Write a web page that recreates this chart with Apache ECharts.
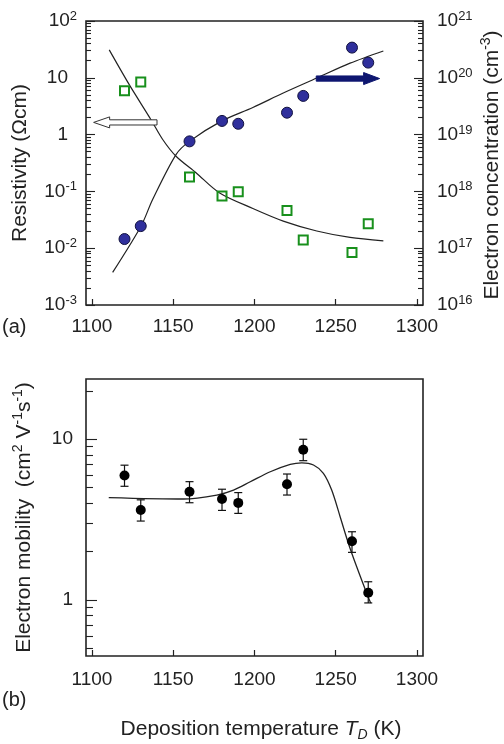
<!DOCTYPE html>
<html>
<head>
<meta charset="utf-8">
<script src="https://cdn.jsdelivr.net/npm/echarts@6/dist/echarts.min.js"></script>
<style>
  html, body { margin: 0; padding: 0; background: #fff; }
  #chart { width: 504px; height: 744px; }
</style>
</head>
<body>
<div id="chart"></div>
<script>
// measured points, both panels share the same deposition temperatures
var temps = [1120, 1130, 1160, 1180, 1190, 1220, 1230, 1260, 1270];
var resistivity = [5.9, 8.4, 0.18, 0.083, 0.099, 0.046, 0.014, 0.0084, 0.027];
var concentration = [1.45e17, 2.45e17, 7.6e18, 1.74e19, 1.55e19, 2.43e19, 4.8e19, 3.4e20, 1.85e20];
var mobility = [5.95, 3.63, 4.72, 4.25, 4.02, 5.25, 8.6, 2.32, 1.11];
var mobilityHigh = [6.9, 4.2, 5.45, 4.89, 4.66, 6.08, 10, 2.66, 1.30];
var mobilityLow = [5.1, 3.1, 4.03, 3.61, 3.46, 4.5, 7.36, 1.98, 0.96];

// fitted curves
var resFitT = [1110.6, 1123, 1136.3, 1143.5, 1151.7, 1164, 1178.3, 1199, 1217.7, 1238.3, 1258.8, 1279.3];
var resFitV = [31, 7.5, 1.83, 0.82, 0.416, 0.213, 0.095, 0.05, 0.030, 0.0201, 0.0155, 0.0135];
var concFitT = [1112.7, 1130.2, 1137.3, 1151.7, 1159.9, 1179.4, 1199, 1217.7, 1238.3, 1258.8, 1279.3];
var concFitV = [3.75e16, 2.46e17, 7.2e17, 4.45e18, 7.6e18, 1.71e19, 3.0e19, 5.4e19, 9.9e19, 1.81e20, 2.97e20];
var mobFitT = [1110.3, 1156.4, 1176.8, 1187.1, 1197.4, 1209.7, 1222, 1229.1, 1236.3, 1242.4, 1247.5, 1252.7, 1257.8, 1262.9, 1269.1, 1271.5];
var mobFitV = [4.34, 4.25, 4.5, 4.83, 5.44, 6.28, 6.98, 7.14, 6.92, 6.14, 4.83, 3.30, 2.25, 1.61, 1.10, 0.96];

// arrows: [tail T, tail value, tip T, tip value] on the resistivity scale
var arrows = [[1140, 1.64, 1101, 1.64], [1238, 9.7, 1277, 9.7]];

// tick values
var xTicks = [1100, 1150, 1200, 1250, 1300];
var resTicks = [1e-3, 1e-2, 1e-1, 1, 10, 100];
var concTicks = [1e16, 1e17, 1e18, 1e19, 1e20, 1e21];
var mobTicks = [1, 10];
var mobMinor = [0.5, 0.6, 0.7, 0.8, 0.9, 2, 3, 4, 5, 6, 7, 8, 9, 20];

function minorTicks(lo, hi) {
  var out = [];
  for (var e = lo; e < hi; e++) {
    for (var k = 2; k <= 9; k++) out.push(parseFloat((k * Math.pow(10, e)).toPrecision(3)));
  }
  return out;
}
var resMinor = minorTicks(-3, 2);
var concMinor = minorTicks(16, 21);

function pairs(xs, ys) {
  return xs.map(function (x, i) { return [x, ys[i]]; });
}

var font = 'Liberation Sans, Arial, sans-serif';
var ink = '#222';
var labelRich = {
  b: { fontSize: 19, lineHeight: 22, fontFamily: font, color: ink },
  p: { fontSize: 19, lineHeight: 22, fontFamily: font, color: ink, padding: [0, 9, 0, 0] },
  s: { fontSize: 13, lineHeight: 13, verticalAlign: 'top', fontFamily: font, color: ink }
};
var nameRich = {
  s: { fontSize: 14, lineHeight: 14, verticalAlign: 'top', fontFamily: font, color: ink },
  i: { fontSize: 21, lineHeight: 26, fontStyle: 'italic', fontFamily: font, color: ink },
  d: { fontSize: 14, lineHeight: 14, verticalAlign: 'bottom', fontStyle: 'italic', fontFamily: font, color: ink }
};

function powLabel(v) {
  var e = Math.round(Math.log10(v));
  return '{b|10}{s|' + e + '}';
}
function resLabel(v) {
  var e = Math.round(Math.log10(v));
  if (e === 0) return '{p|1}';
  if (e === 1) return '{p|10}';
  return powLabel(v);
}

var xMin = 1096.3, xMax = 1303.7;

function xAxisFor(gridIndex, margin, name) {
  return {
    type: 'value', gridIndex: gridIndex, position: 'bottom',
    min: xMin, max: xMax,
    axisLine: { show: false, onZero: false },
    axisTick: { inside: true, length: 6, customValues: xTicks, lineStyle: { color: ink, width: 1.2 } },
    axisLabel: { customValues: xTicks, margin: margin, fontSize: 19, fontFamily: font, color: ink,
      formatter: function (v) { return String(Math.round(v)); } },
    splitLine: { show: false },
    name: name || '', nameLocation: 'middle', nameGap: 60,
    nameTextStyle: { fontSize: 21, lineHeight: 26, fontFamily: font, color: ink, rich: nameRich, padding: [0, 0, 0, 13] }
  };
}

function logAxis(opt) {
  var a = {
    type: 'log', logBase: 10, gridIndex: opt.grid, position: opt.position,
    min: opt.min, max: opt.max,
    axisLine: { show: false, onZero: false },
    axisTick: { inside: true, length: opt.tickLen, customValues: opt.ticks, lineStyle: { color: ink, width: 1.1 } },
    axisLabel: { show: !!opt.formatter, customValues: opt.ticks, margin: opt.margin, formatter: opt.formatter,
      rich: labelRich, showMinLabel: true, showMaxLabel: true },
    splitLine: { show: false },
    minorTick: { show: false }
  };
  if (opt.name) {
    a.name = opt.name;
    a.nameLocation = 'middle';
    a.nameRotate = 90;
    a.nameGap = opt.nameGap;
    a.nameTextStyle = { fontSize: 21, lineHeight: 26, fontFamily: font, color: ink, rich: nameRich };
  }
  return a;
}

function renderArrow(params, api) {
  var a = api.coord([api.value(0), api.value(1)]);
  var b = api.coord([api.value(2), api.value(3)]);
  var dir = b[0] > a[0] ? 1 : -1;
  var filled = params.dataIndex === 1;
  var headLen = 16, headH = filled ? 6 : 5.5, shaftH = 2.6;
  var y = a[1];
  var neck = b[0] - dir * headLen;
  var pts = [[a[0], y - shaftH], [neck, y - shaftH], [neck, y - headH], [b[0], y],
             [neck, y + headH], [neck, y + shaftH], [a[0], y + shaftH]];
  return {
    type: 'polygon', shape: { points: pts },
    style: { fill: filled ? '#0e1670' : '#fff', stroke: filled ? '#0e1670' : '#333', lineWidth: 1 }
  };
}

function renderErr(params, api) {
  var x = api.value(0);
  var lo = api.coord([x, api.value(1)]);
  var hi = api.coord([x, api.value(2)]);
  var w = 4;
  var st = { stroke: '#111', lineWidth: 1.2 };
  return {
    type: 'group', children: [
      { type: 'line', shape: { x1: lo[0], y1: lo[1], x2: hi[0], y2: hi[1] }, style: st },
      { type: 'line', shape: { x1: lo[0] - w, y1: lo[1], x2: lo[0] + w, y2: lo[1] }, style: st },
      { type: 'line', shape: { x1: hi[0] - w, y1: hi[1], x2: hi[0] + w, y2: hi[1] }, style: st }
    ]
  };
}

var chart = echarts.init(document.getElementById('chart'));
chart.setOption({
  animation: false,
  backgroundColor: '#fff',
  grid: [
    { left: 86, top: 21, width: 337, height: 284, show: true, borderColor: ink, borderWidth: 1.6,
      backgroundColor: 'transparent', outerBoundsMode: 'none', containLabel: false },
    { left: 86, top: 379, width: 337, height: 277, show: true, borderColor: ink, borderWidth: 1.6,
      backgroundColor: 'transparent', outerBoundsMode: 'none', containLabel: false }
  ],
  xAxis: [
    xAxisFor(0, 12),
    xAxisFor(1, 14, 'Deposition temperature {i|T}{d|D} (K)')
  ],
  yAxis: [
    logAxis({ grid: 0, position: 'left', min: 1e-3, max: 100.001, ticks: resTicks, tickLen: 9, margin: 9,
      formatter: resLabel, name: 'Resistivity (Ωcm)', nameGap: 53 }),
    logAxis({ grid: 0, position: 'right', min: 1e16, max: 1.00001e21, ticks: concTicks, tickLen: 9, margin: 14,
      formatter: powLabel }),
    logAxis({ grid: 0, position: 'left', min: 1e-3, max: 100.001, ticks: resMinor, tickLen: 5 }),
    logAxis({ grid: 0, position: 'right', min: 1e16, max: 1.00001e21, ticks: concMinor, tickLen: 5 }),
    logAxis({ grid: 1, position: 'left', min: 0.449, max: 23.7, ticks: mobTicks, tickLen: 11, margin: 13,
      formatter: function (v) { return '{b|' + (v >= 10 ? '10' : '1') + '}'; },
      name: 'Electron mobility  (cm{s|2} V{s|-1}s{s|-1})', nameGap: 49 }),
    logAxis({ grid: 1, position: 'left', min: 0.449, max: 23.7, ticks: mobMinor, tickLen: 7 })
  ],
  series: [
    {
      type: 'line', xAxisIndex: 0, yAxisIndex: 0, data: pairs(resFitT, resFitV),
      smooth: 0.3, showSymbol: false, lineStyle: { color: '#222', width: 1.2 }, z: 2
    },
    {
      type: 'line', xAxisIndex: 0, yAxisIndex: 1, data: pairs(concFitT, concFitV),
      smooth: 0.3, showSymbol: false, lineStyle: { color: '#222', width: 1.2 }, z: 2
    },
    {
      type: 'scatter', xAxisIndex: 0, yAxisIndex: 0, data: pairs(temps, resistivity),
      symbol: 'rect', symbolSize: 9,
      itemStyle: { color: 'rgba(255,255,255,0)', borderColor: '#18901c', borderWidth: 2, opacity: 1 }, z: 3
    },
    {
      type: 'scatter', xAxisIndex: 0, yAxisIndex: 1, data: pairs(temps, concentration),
      symbol: 'circle', symbolSize: 11,
      itemStyle: { color: '#2f2f9c', borderColor: '#121240', borderWidth: 1, opacity: 1 }, z: 3
    },
    {
      type: 'custom', xAxisIndex: 0, yAxisIndex: 0, data: arrows,
      encode: { x: [0, 2], y: [1, 3] }, renderItem: renderArrow, z: 4
    },
    {
      type: 'line', xAxisIndex: 1, yAxisIndex: 4, data: pairs(mobFitT, mobFitV),
      smooth: 0.3, showSymbol: false, lineStyle: { color: '#222', width: 1.3 }, z: 2
    },
    {
      type: 'custom', xAxisIndex: 1, yAxisIndex: 4,
      data: temps.map(function (t, i) { return [t, mobilityLow[i], mobilityHigh[i]]; }),
      encode: { x: 0, y: [1, 2] }, renderItem: renderErr, z: 3
    },
    {
      type: 'scatter', xAxisIndex: 1, yAxisIndex: 4, data: pairs(temps, mobility),
      symbol: 'circle', symbolSize: 10, itemStyle: { color: '#000', opacity: 1 }, z: 4
    }
  ],
  graphic: [
    { type: 'text', x: 2, y: 327, style: { text: '(a)', fontSize: 20, fontFamily: font, fill: ink, verticalAlign: 'middle' } },
    { type: 'text', x: 2, y: 700, style: { text: '(b)', fontSize: 20, fontFamily: font, fill: ink, verticalAlign: 'middle' } },
    {
      type: 'text', x: 492, y: 165, rotation: Math.PI / 2,
      style: {
        text: 'Electron concentration (cm{s|-3})', fontSize: 21, lineHeight: 26, fontFamily: font, fill: ink,
        align: 'center', verticalAlign: 'middle', rich: nameRich
      }
    }
  ]
});
</script>
</body>
</html>
